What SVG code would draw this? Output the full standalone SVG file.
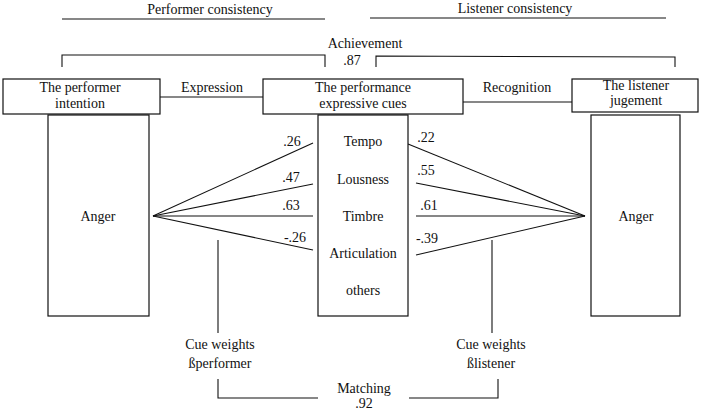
<svg xmlns="http://www.w3.org/2000/svg" width="701" height="411" viewBox="0 0 701 411" font-family="'Liberation Serif', 'Times New Roman', Times, serif" font-size="14">
<style>
text{fill:#111}
.m{text-anchor:middle}
.box{fill:#fff;stroke:#111;stroke-width:1.2}
.ln{fill:none;stroke:#111;stroke-width:1.1}
</style>
<rect width="701" height="411" fill="#fff"/>
<g id="connectors">
<line class="ln" x1="62" y1="19" x2="325" y2="19"/>
<line class="ln" x1="370" y1="18" x2="666" y2="18"/>
<polyline class="ln" points="62,67 62,55 325,55 325,67"/>
<polyline class="ln" points="376,67 376,56 675,57 675,67"/>
<line class="ln" x1="160" y1="97" x2="263" y2="97"/>
<line class="ln" x1="463" y1="102" x2="572" y2="102"/>
<line class="ln" x1="153" y1="216" x2="313" y2="143"/>
<line class="ln" x1="153" y1="216" x2="313" y2="184"/>
<line class="ln" x1="153" y1="216" x2="313" y2="216"/>
<line class="ln" x1="153" y1="216" x2="313" y2="250"/>
<line class="ln" x1="408" y1="144" x2="585" y2="216"/>
<line class="ln" x1="416" y1="183" x2="585" y2="216"/>
<line class="ln" x1="416" y1="216" x2="585" y2="216"/>
<line class="ln" x1="416" y1="255" x2="585" y2="216"/>
<line class="ln" x1="218" y1="240" x2="218" y2="333"/>
<line class="ln" x1="492" y1="240" x2="492" y2="333"/>
<polyline class="ln" points="218,379 218,398 318,398"/>
<polyline class="ln" points="409,398 498,398 498,379"/>
<text x="292" y="146" class="m">.26</text>
<text x="291" y="182" class="m">.47</text>
<text x="291" y="210" class="m">.63</text>
<text x="295" y="242" class="m">-.26</text>
<text x="426" y="142" class="m">.22</text>
<text x="426" y="175" class="m">.55</text>
<text x="429" y="210" class="m">.61</text>
<text x="427" y="243" class="m">-.39</text>
<text x="212" y="92" class="m">Expression</text>
<text x="517" y="92" class="m">Recognition</text>
</g>
<g id="titles">
<text x="210" y="14" class="m">Performer consistency</text>
<text x="515" y="13" class="m">Listener consistency</text>
<text x="365" y="48" class="m">Achievement</text>
<text x="352" y="65" class="m">.87</text>
</g>
<g id="performer-intention">
<rect class="box" x="3" y="79" width="157" height="35"/>
<text x="80" y="92" class="m">The performer</text>
<text x="80" y="108" class="m">intention</text>
</g>
<g id="performance-cues">
<rect class="box" x="263" y="79" width="200" height="35"/>
<text x="363" y="92" class="m">The performance</text>
<text x="363" y="108" class="m">expressive cues</text>
</g>
<g id="listener-judgement">
<rect class="box" x="572" y="79" width="126" height="33"/>
<text x="636" y="90" class="m">The listener</text>
<text x="636" y="105" class="m">jugement</text>
</g>
<g id="anger-performer">
<rect class="box" x="48" y="115" width="101" height="201"/>
<text x="98" y="221" class="m">Anger</text>
</g>
<g id="cues">
<rect class="box" x="318" y="115" width="90" height="201"/>
<text x="363" y="146" class="m">Tempo</text>
<text x="363" y="184" class="m">Lousness</text>
<text x="363" y="221" class="m">Timbre</text>
<text x="363" y="258" class="m">Articulation</text>
<text x="363" y="295" class="m">others</text>
</g>
<g id="anger-listener">
<rect class="box" x="591" y="115" width="89" height="201"/>
<text x="636" y="221" class="m">Anger</text>
</g>
<g id="cue-weights-performer">
<text x="220" y="349" class="m">Cue weights</text>
<text x="220" y="368" class="m">ßperformer</text>
</g>
<g id="cue-weights-listener">
<text x="491" y="349" class="m">Cue weights</text>
<text x="491" y="368" class="m">ßlistener</text>
</g>
<g id="matching">
<text x="364" y="393" class="m">Matching</text>
<text x="364" y="408" class="m">.92</text>
</g>
</svg>
